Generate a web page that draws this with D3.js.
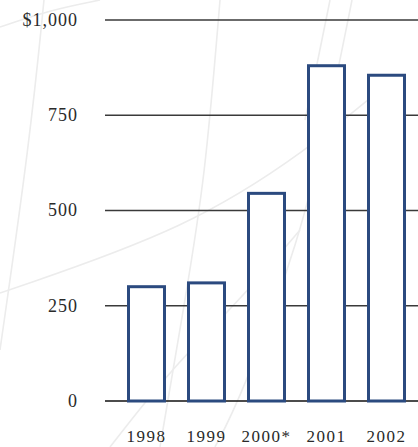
<!DOCTYPE html>
<html>
<head>
<meta charset="utf-8">
<script src="https://cdn.jsdelivr.net/npm/d3@7/dist/d3.min.js"></script>
<style>
  html, body { margin: 0; padding: 0; background: #fff; }
  svg { display: block; }
  .tick-label { font-family: "Liberation Serif", "DejaVu Serif", serif; fill: #2a2a2a; }
</style>
</head>
<body>
<svg id="chart" width="418" height="447"></svg>
<script>
// Annual figures, in dollars
const years = ["1998", "1999", "2000*", "2001", "2002"];
const amounts = [300, 310, 545, 880, 855];
const tickValues = [0, 250, 500, 750, 1000];
const tickLabels = ["0", "250", "500", "750", "$1,000"];

const W = 418, H = 447;
const svg = d3.select("#chart");

// Faint decorative swirl lines in the background
const swirls = [
  [[0, 27], [50, 10], [100, 0]],
  [[44, 0], [30, 140], [0, 350]],
  [[0, 293], [190, 228], [310, 148], [380, 90]],
  [[220, 0], [205, 180], [185, 300], [160, 447]],
  [[352, 0], [330, 110], [300, 240], [240, 400], [215, 447]],
  [[110, 447], [170, 370], [240, 300], [300, 230]],
  [[330, 0], [318, 60], [305, 120]]
];
const swirlLine = d3.line().curve(d3.curveBasis);
svg.append("g")
  .selectAll("path")
  .data(swirls)
  .join("path")
  .attr("d", swirlLine)
  .attr("fill", "none")
  .attr("stroke", "#ececec")
  .attr("stroke-width", 1.6);

const x = d3.scaleBand()
  .domain(years)
  .range([116.5, 416.5])
  .paddingInner(0.4)
  .paddingOuter(0.2);

const y = d3.scaleLinear()
  .domain([0, 1000])
  .range([401, 20]);

// Horizontal gridlines
svg.append("g")
  .selectAll("line")
  .data(tickValues)
  .join("line")
  .attr("x1", 105)
  .attr("x2", W)
  .attr("y1", d => y(d))
  .attr("y2", d => y(d))
  .attr("stroke", d => d === 0 ? "#111" : "#3a3a3a")
  .attr("stroke-width", 1.4);

// Value labels on the left
svg.append("g")
  .selectAll("text")
  .data(tickValues)
  .join("text")
  .attr("class", "tick-label")
  .attr("x", 78)
  .attr("y", d => y(d))
  .attr("dy", "0.33em")
  .attr("text-anchor", "end")
  .style("font-size", "18px")
  .style("letter-spacing", "1px")
  .text((d, i) => tickLabels[i]);

// Bars
svg.append("g")
  .selectAll("rect")
  .data(amounts)
  .join("rect")
  .attr("x", (d, i) => x(years[i]))
  .attr("y", d => y(d))
  .attr("width", x.bandwidth())
  .attr("height", d => y(0) - y(d))
  .attr("fill", "#fff")
  .attr("stroke", "#2b4a7f")
  .attr("stroke-width", 3);

// Year labels
svg.append("g")
  .selectAll("text")
  .data(years)
  .join("text")
  .attr("class", "tick-label")
  .attr("x", d => x(d) + x.bandwidth() / 2)
  .attr("y", 442)
  .attr("text-anchor", "middle")
  .style("font-size", "17px")
  .style("letter-spacing", "1.5px")
  .text(d => d);
</script>
</body>
</html>
